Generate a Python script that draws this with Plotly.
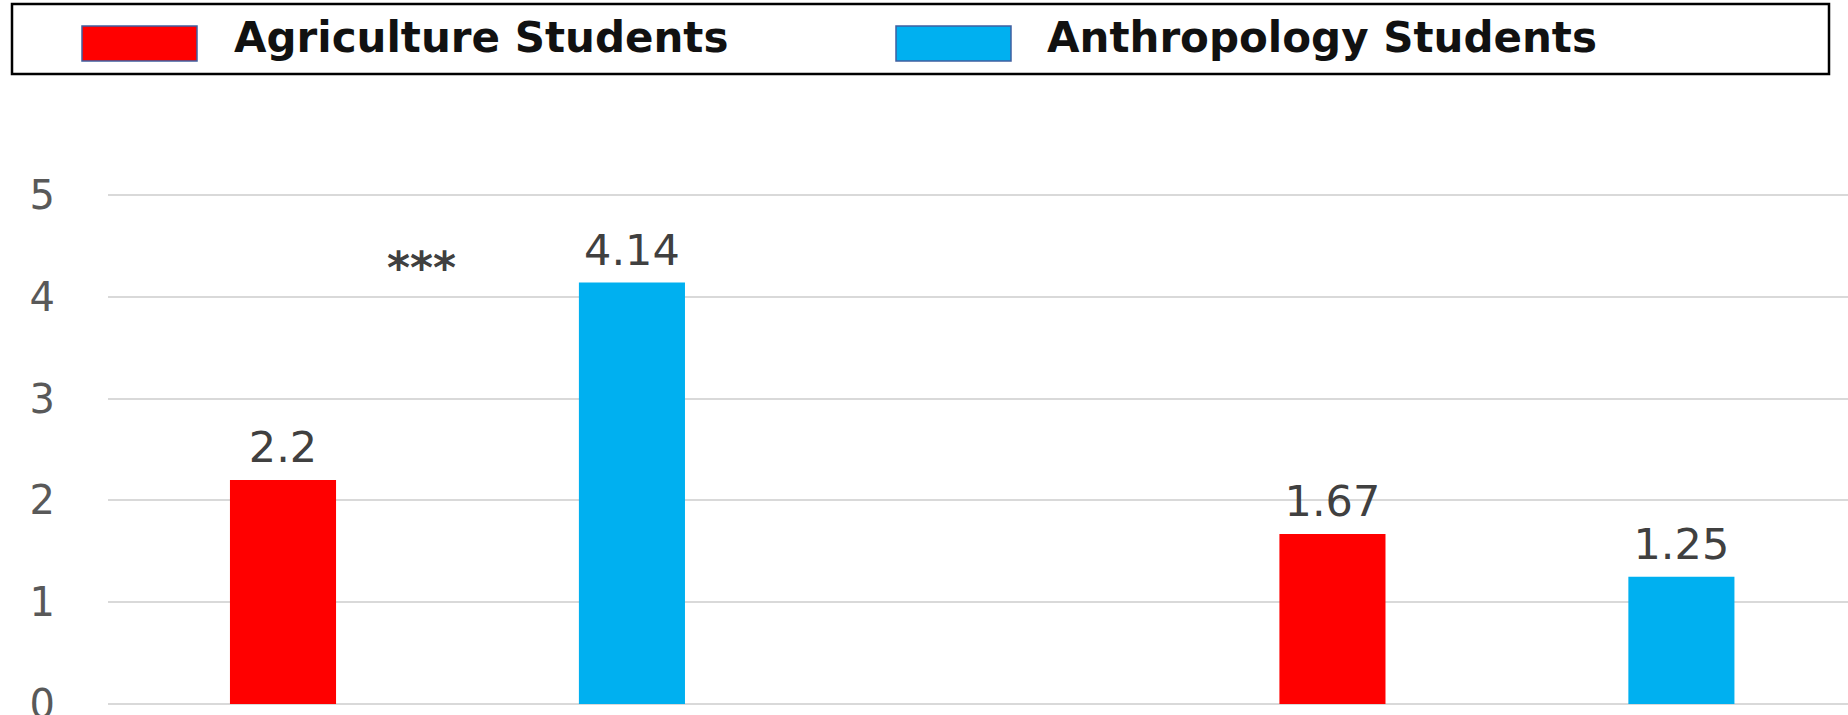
import plotly.graph_objects as go

categories = ["Group 1", "Group 2"]
series_names = ["Agriculture Students", "Anthropology Students"]
agriculture = [2.2, 1.67]
anthropology = [4.14, 1.25]
colors = ["#ff0000", "#00b0f0"]
y_ticks = [0, 1, 2, 3, 4, 5]
sig_label = "***"
sig_category = "Group 1"
sig_y = 4.37

W, H = 1848, 715
ML, MR, MT, MB = 108, 0, 190, 11

fig = go.Figure()
for i, (name, vals, col) in enumerate(zip(series_names, [agriculture, anthropology], colors)):
    fig.add_trace(go.Bar(
        x=categories, y=vals, name=name, offsetgroup=str(i),
        marker=dict(color=col, line=dict(width=0)),
        showlegend=False, hoverinfo="skip",
    ))
for i, (name, vals) in enumerate(zip(series_names, [agriculture, anthropology])):
    fig.add_trace(go.Scatter(
        x=categories, y=vals, name=name + " labels", offsetgroup=str(i),
        mode="markers+text", text=[f"{v:g}" for v in vals],
        textposition="top center",
        marker=dict(size=10, color="rgba(0,0,0,0)"),
        textfont=dict(family="DejaVu Sans", size=43, color="#404040"),
        cliponaxis=False, showlegend=False, hoverinfo="skip",
    ))

fig.add_annotation(x=sig_category, y=sig_y, xref="x", yref="y", text=f"<b>{sig_label}</b>",
                   showarrow=False, xshift=-36, yshift=-8,
                   font=dict(family="DejaVu Sans", size=44, color="#404040"))

# custom legend box
def px(x):
    return (x - ML) / (W - ML - MR)

def py(y):
    return (H - MB - y) / (H - MT - MB)

fig.add_shape(type="rect", xref="paper", yref="paper",
              x0=px(12), x1=px(1829), y0=py(74), y1=py(4),
              line=dict(color="#000000", width=2.5), fillcolor="rgba(0,0,0,0)")
sw_x = [82, 896]
txt_x = [232, 1045]
for name, col, sx, tx in zip(series_names, colors, sw_x, txt_x):
    fig.add_shape(type="rect", xref="paper", yref="paper",
                  x0=px(sx), x1=px(sx + 115), y0=py(61), y1=py(26),
                  line=dict(color="#3f5fa0", width=1.5), fillcolor=col)
    fig.add_annotation(x=px(tx), y=py(38), xref="paper", yref="paper",
                       text=f"<b>{name}</b>", showarrow=False,
                       xanchor="left", yanchor="middle",
                       font=dict(family="DejaVu Sans", size=42, color="#111111"))

fig.update_layout(
    width=W, height=H,
    margin=dict(l=ML, r=MR, t=MT, b=MB),
    paper_bgcolor="white", plot_bgcolor="white",
    barmode="group", bargap=0.335, bargroupgap=0.696,
    scattermode="group", scattergap=0.335,
    xaxis=dict(range=[-0.333, 1.325], showticklabels=False, showgrid=False,
               zeroline=False, showline=False, ticks=""),
    yaxis=dict(range=[0, 5.05], tickvals=y_ticks, showgrid=True,
               gridcolor="#d9d9d9", gridwidth=2, zeroline=True,
               zerolinecolor="#d9d9d9", zerolinewidth=2, showline=False,
               ticks="", ticklabelstandoff=52, ticklabeloverflow="allow",
               automargin=False,
               tickfont=dict(family="DejaVu Sans", size=40, color="#595959")),
)

fig.write_html("out.html", config={"displayModeBar": False},
               post_script="document.body.style.margin='0px';")
